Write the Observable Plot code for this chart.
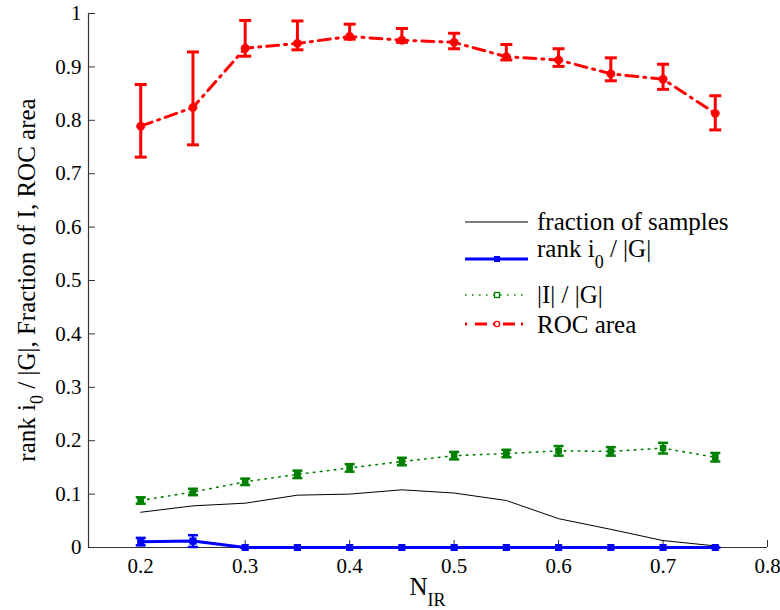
<!DOCTYPE html>
<html><head><meta charset="utf-8">
<script src="https://cdn.jsdelivr.net/npm/d3@7"></script>
<script src="https://cdn.jsdelivr.net/npm/@observablehq/plot@0.6"></script>
<style>body{margin:0;background:#fff}#chart{width:780px;height:610px}
#chart svg, #chart svg text{font-family:"Liberation Serif","Times New Roman",Times,serif !important}</style>
</head><body><div id="chart"></div>
<script>
const nir = [0.2, 0.25, 0.3, 0.35, 0.4, 0.45, 0.5, 0.55, 0.6, 0.65, 0.7, 0.75];
const fractionSamples = [0.066, 0.078, 0.083, 0.098, 0.100, 0.108, 0.102, 0.088, 0.054, 0.034, 0.013, 0.003];
const rankMean = [0.011, 0.012, 0, 0, 0, 0, 0, 0, 0, 0, 0, 0];
const rankErr = [0.007, 0.011, 0, 0, 0, 0, 0, 0, 0, 0, 0, 0];
const fracIMean = [0.088, 0.104, 0.123, 0.137, 0.149, 0.161, 0.172, 0.176, 0.181, 0.180, 0.186, 0.169];
const fracIErr = [0.006, 0.006, 0.006, 0.007, 0.007, 0.007, 0.007, 0.007, 0.009, 0.008, 0.010, 0.008];
const rocMean = [0.789, 0.824, 0.935, 0.944, 0.957, 0.950, 0.946, 0.919, 0.913, 0.887, 0.877, 0.813];
const rocLow = [0.731, 0.754, 0.920, 0.932, 0.952, 0.946, 0.934, 0.913, 0.901, 0.874, 0.858, 0.782];
const rocHigh = [0.867, 0.928, 0.987, 0.986, 0.980, 0.972, 0.963, 0.942, 0.934, 0.917, 0.905, 0.846];
const xTicks = [0.2, 0.3, 0.4, 0.5, 0.6, 0.7, 0.8];
const yTicks = [0, 0.1, 0.2, 0.3, 0.4, 0.5, 0.6, 0.7, 0.8, 0.9, 1];
const legendLabels = ["fraction of samples", "rank i", "|I| / |G|", "ROC area"];

const rows = nir.map((x, i) => ({
  x,
  frac: fractionSamples[i],
  rank: rankMean[i], rankLo: rankMean[i] - rankErr[i], rankHi: rankMean[i] + rankErr[i],
  fi: fracIMean[i], fiLo: fracIMean[i] - fracIErr[i], fiHi: fracIMean[i] + fracIErr[i],
  roc: rocMean[i], rocLo: rocLow[i], rocHi: rocHigh[i]
}));

const W = 780, H = 610, ML = 88, MR = 13, MT = 13, MB = 63;
const cap = (hw) => ({draw(ctx) { ctx.moveTo(-hw, 0); ctx.lineTo(hw, 0); }});
const RED = "#ff0000", GREEN = "#008000", BLUE = "#0000ff";
const FONT = '"Liberation Serif", "Times New Roman", Times, serif';

const chart = Plot.plot({
  width: W, height: H,
  marginLeft: ML, marginRight: MR, marginTop: MT, marginBottom: MB,
  style: {fontFamily: FONT, fontSize: "21px", color: "#000", background: "#fff"},
  x: {domain: [0.15, 0.8], label: null},
  y: {domain: [0, 1], label: null},
  marks: [
    Plot.axisX(xTicks, {tickSize: 0, tickPadding: 11, fontSize: 21, tickFormat: d => String(d)}),
    Plot.axisY(yTicks, {tickSize: 0, tickPadding: 7, fontSize: 21, tickFormat: d => String(d)}),
    Plot.tickX(xTicks, {x: d => d, insetTop: H - MT - MB - 7, stroke: "#333", strokeWidth: 1}),
    Plot.tickY(yTicks, {y: d => d, insetRight: W - ML - MR - 7, stroke: "#333", strokeWidth: 1}),
    Plot.ruleX([0.15], {stroke: "#333", strokeWidth: 1.2}),
    Plot.ruleY([0], {stroke: "#333", strokeWidth: 1.2}),
    // fraction of samples
    Plot.line(rows, {x: "x", y: "frac", stroke: "#000", strokeWidth: 1}),
    // |I|/|G|
    Plot.line(rows, {x: "x", y: "fi", stroke: GREEN, strokeWidth: 1.6, strokeDasharray: "1.5,5.5"}),
    Plot.ruleX(rows, {x: "x", y1: "fiLo", y2: "fiHi", stroke: GREEN, strokeWidth: 2.5}),
    Plot.dot(rows, {x: "x", y: "fiLo", symbol: cap(5), stroke: GREEN, strokeWidth: 2.5, fill: "none"}),
    Plot.dot(rows, {x: "x", y: "fiHi", symbol: cap(5), stroke: GREEN, strokeWidth: 2.5, fill: "none"}),
    Plot.dot(rows, {x: "x", y: "fi", symbol: "square", r: 3.2, fill: GREEN, stroke: GREEN, strokeWidth: 1}),
    // rank i0 / |G|
    Plot.line(rows, {x: "x", y: "rank", stroke: BLUE, strokeWidth: 3}),
    Plot.ruleX(rows, {x: "x", y1: "rankLo", y2: "rankHi", stroke: BLUE, strokeWidth: 2.5}),
    Plot.dot(rows, {x: "x", y: "rankLo", symbol: cap(5), stroke: BLUE, strokeWidth: 2.5, fill: "none"}),
    Plot.dot(rows, {x: "x", y: "rankHi", symbol: cap(5), stroke: BLUE, strokeWidth: 2.5, fill: "none"}),
    Plot.dot(rows, {x: "x", y: "rank", symbol: "square", r: 3.2, fill: BLUE, stroke: BLUE}),
    // ROC area
    Plot.line(rows, {x: "x", y: "roc", stroke: RED, strokeWidth: 3, strokeDasharray: "12,6,2,6"}),
    Plot.ruleX(rows, {x: "x", y1: "rocLo", y2: "rocHi", stroke: RED, strokeWidth: 3}),
    Plot.dot(rows, {x: "x", y: "rocLo", symbol: cap(6), stroke: RED, strokeWidth: 3, fill: "none"}),
    Plot.dot(rows, {x: "x", y: "rocHi", symbol: cap(6), stroke: RED, strokeWidth: 3, fill: "none"}),
    Plot.dot(rows, {x: "x", y: "roc", r: 4.2, fill: RED, stroke: RED, strokeWidth: 0.5})
  ]
});

const svg = d3.select(chart);

// y-axis label
const yl = svg.append("text")
  .attr("transform", `translate(35,${(MT + H - MB) / 2}) rotate(-90)`)
  .attr("text-anchor", "middle").attr("font-size", 25).attr("fill", "#000");
yl.append("tspan").text("rank i");
yl.append("tspan").attr("font-size", 18).attr("dy", 8).text("0");
yl.append("tspan").attr("dy", -8).text(" / |G|, Fraction of I, ROC area");

// x-axis label
const xl = svg.append("text")
  .attr("x", (ML + W - MR) / 2).attr("y", 595)
  .attr("text-anchor", "middle").attr("font-size", 25).attr("fill", "#000");
xl.append("tspan").text("N");
xl.append("tspan").attr("font-size", 18).attr("dy", 11).text("IR");

// legend
const lg = svg.append("g").attr("font-size", 25).attr("fill", "#000").attr("text-anchor", "start");
const lx0 = 465, lx1 = 528, lxm = 497, tx = 537;
// row 1
lg.append("line").attr("x1", lx0).attr("x2", lx1).attr("y1", 222).attr("y2", 222).attr("stroke", "#555").attr("stroke-width", 1.5);
lg.append("text").attr("x", tx).attr("y", 230).text(legendLabels[0]);
// row 2
lg.append("line").attr("x1", lx0).attr("x2", lx1).attr("y1", 259).attr("y2", 259).attr("stroke", BLUE).attr("stroke-width", 3);
lg.append("rect").attr("x", lxm - 3).attr("y", 256).attr("width", 6).attr("height", 6).attr("fill", BLUE);
const t2 = lg.append("text").attr("x", tx).attr("y", 257);
t2.append("tspan").text(legendLabels[1]);
t2.append("tspan").attr("font-size", 18).attr("dy", 11).text("0");
t2.append("tspan").attr("dy", -11).text(" / |G|");
// row 3
lg.append("line").attr("x1", lx0).attr("x2", lx1).attr("y1", 295).attr("y2", 295).attr("stroke", GREEN).attr("stroke-width", 1.6).attr("stroke-dasharray", "1.5,5.5");
lg.append("rect").attr("x", lxm - 2.5).attr("y", 292.5).attr("width", 5).attr("height", 5).attr("fill", "#fff").attr("stroke", GREEN).attr("stroke-width", 1.3);
lg.append("text").attr("x", tx).attr("y", 303).text(legendLabels[2]);
// row 4
lg.append("line").attr("x1", lx0).attr("x2", lx1).attr("y1", 324).attr("y2", 324).attr("stroke", RED).attr("stroke-width", 3).attr("stroke-dasharray", "2,8,12,6");
lg.append("circle").attr("cx", lxm).attr("cy", 324).attr("r", 2.6).attr("fill", "#fff").attr("stroke", RED).attr("stroke-width", 1.3);
lg.append("text").attr("x", tx).attr("y", 333).text(legendLabels[3]);

document.getElementById("chart").appendChild(chart);
</script>
</body></html>
